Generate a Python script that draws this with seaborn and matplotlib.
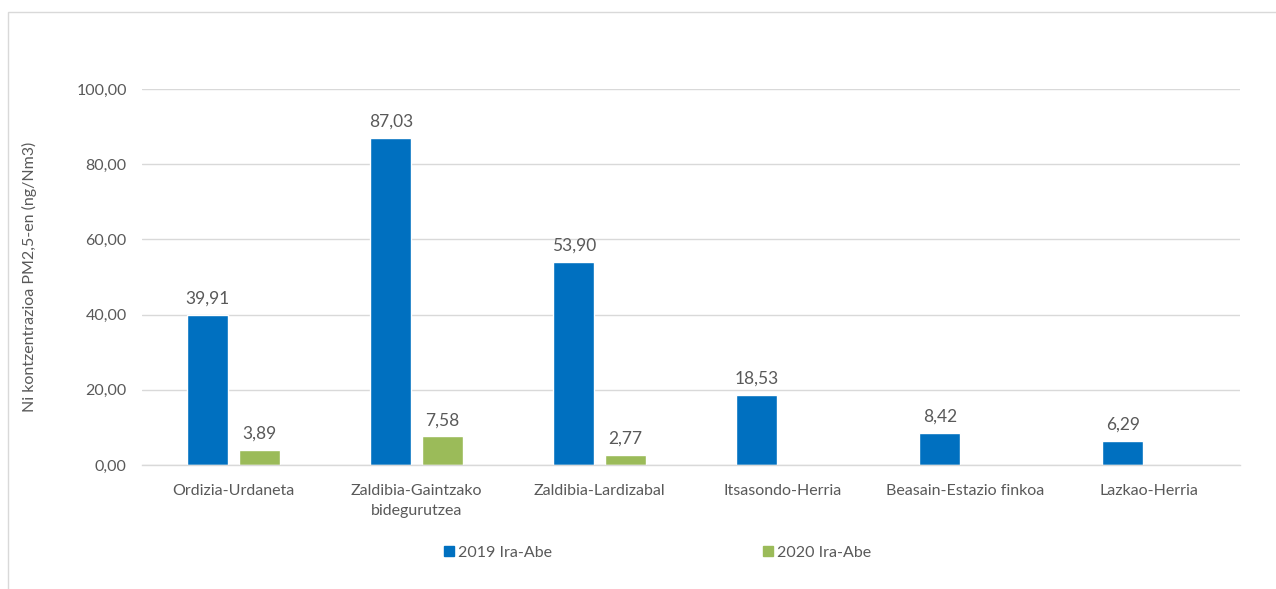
import matplotlib
matplotlib.use("Agg")
import matplotlib.pyplot as plt
import seaborn as sns
import pandas as pd
from matplotlib.patches import Rectangle
from matplotlib.lines import Line2D

categories = ["Ordizia-Urdaneta", "Zaldibia-Gaintzako\nbidegurutzea", "Zaldibia-Lardizabal",
              "Itsasondo-Herria", "Beasain-Estazio finkoa", "Lazkao-Herria"]
series_names = ["2019 Ira-Abe", "2020 Ira-Abe"]
values_2019 = [39.91, 87.03, 53.90, 18.53, 8.42, 6.29]
values_2020 = [3.89, 7.58, 2.77, None, None, None]
yticks = [0, 20, 40, 60, 80, 100]

colors = ["#0070C0", "#9BBB59"]
text_color = "#595959"
grid_color = "#D9D9D9"

rows = []
for c, v in zip(categories, values_2019):
    rows.append({"cat": c, "series": series_names[0], "val": v})
for c, v in zip(categories, values_2020):
    if v is not None:
        rows.append({"cat": c, "series": series_names[1], "val": v})
df = pd.DataFrame(rows)

sns.set_theme(style="white")
plt.rcParams["font.family"] = ["Lato", "DejaVu Sans"]

fig = plt.figure(figsize=(12.76, 5.89), dpi=100)
ax = fig.add_axes([142/1276, 1-465/589, (1240-142)/1276, (465-89)/589])

sns.barplot(data=df, x="cat", y="val", hue="series", order=categories,
            hue_order=series_names, palette=colors, width=0.56, gap=0.2,
            errorbar=None, ax=ax, legend=False, saturation=1)

for cont in ax.containers:
    labels = [f"{b.get_height():.2f}".replace(".", ",") for b in cont]
    ax.bar_label(cont, labels=labels, padding=6, fontsize=12.5, color=text_color)

ax.set_ylim(0, 100)
ax.set_xlim(-0.5, len(categories)-0.5)
ax.set_yticks(yticks)
ax.set_yticklabels([f"{t:.2f}".replace(".", ",") for t in yticks])
ax.yaxis.grid(True, color=grid_color, linewidth=1)
ax.set_axisbelow(True)
for s in ["top", "right", "left"]:
    ax.spines[s].set_visible(False)
ax.spines["bottom"].set_color(grid_color)
ax.spines["bottom"].set_linewidth(1)
ax.tick_params(axis="x", length=0, labelsize=11.5, colors=text_color, pad=14)
ax.tick_params(axis="y", length=0, labelsize=11.5, colors=text_color, pad=11)
for lbl in ax.get_xticklabels():
    lbl.set_linespacing(1.55)
ax.set_xlabel("")
ax.set_ylabel("Ni kontzentrazioa PM2,5-en (ng/Nm3)", fontsize=11.5, color=text_color)
ax.yaxis.set_label_coords((37 - 142) / (1240 - 142), 0.5)

handles = [Line2D([], [], marker="s", linestyle="none", markersize=7,
                  markerfacecolor=col, markeredgecolor=col) for col in colors]
fig.legend(handles, series_names, loc="center", bbox_to_anchor=(656/1276, 1-553/589),
           ncol=2, frameon=False, fontsize=11.5, labelcolor=text_color,
           columnspacing=13.0, handletextpad=0.1, handlelength=1.0)

fig.add_artist(Rectangle((8/1276, -0.1), 1.2, 1-12/589+0.1, transform=fig.transFigure,
                         fill=False, edgecolor=grid_color, linewidth=1))

fig.savefig("out.png", dpi=100)
